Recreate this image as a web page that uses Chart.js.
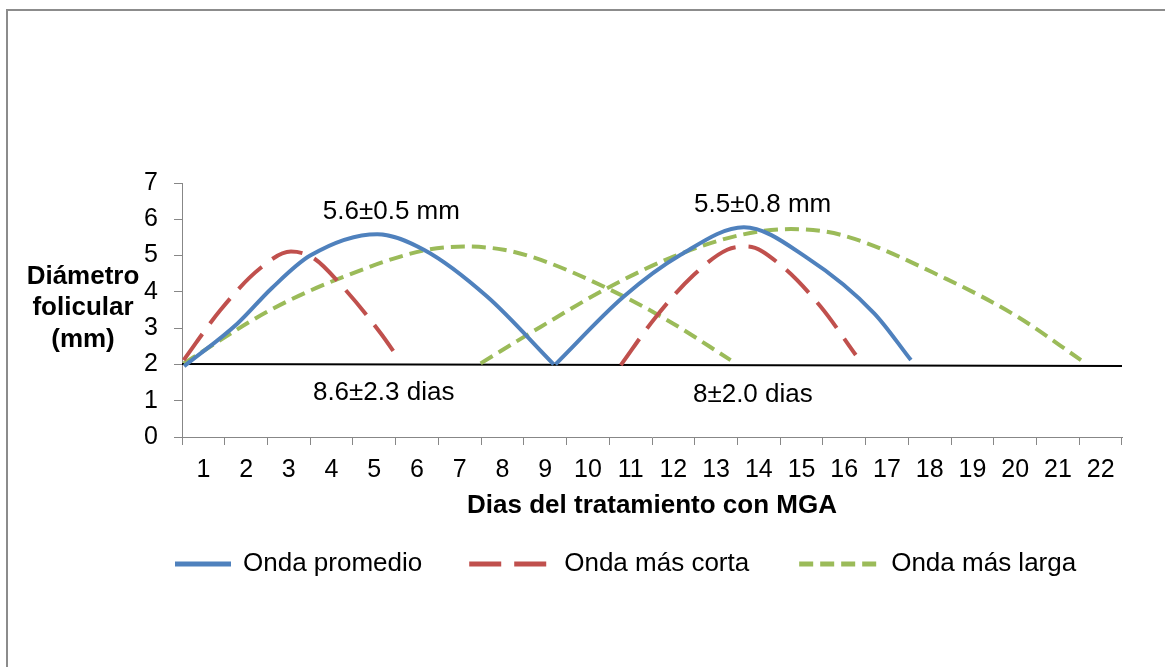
<!DOCTYPE html>
<html>
<head>
<meta charset="utf-8">
<script src="https://cdn.jsdelivr.net/npm/chart.js@4.4.1/dist/chart.umd.min.js"></script>
<style>
    html, body { margin: 0; padding: 0; background: #fff; overflow: hidden; }
    #frame { position: absolute; left: 6px; top: 9px; width: 1200px; height: 700px; border-top: 2px solid #8c8c8c; border-left: 2px solid #8c8c8c; }
    #wrap { position: absolute; left: 0; top: 0; width: 1165px; height: 667px; }
</style>
</head>
<body>
<div id="frame"></div>
<div id="wrap"><canvas id="myChart" width="1165" height="667"></canvas></div>
<script>
// Days on the x axis
const dayLabels = ['1', '2', '3', '4', '5', '6', '7', '8', '9', '10', '11',
    '12', '13', '14', '15', '16', '17', '18', '19', '20', '21', '22'];

// Onda promedio (two waves, null = break)
const promedioX = [0.55, 1.8, 2.6, 3.5, 5.07, 6.16, 7.64, 9.2, null, 9.24, 10.84, 12.17, 13.65, 15.14, 16.7, 17.56];
const promedioY = [1.95, 3.13, 4.1, 5.0, 5.59, 5.16, 3.87, 2.0, null, 2.0, 3.87, 5.02, 5.78, 4.93, 3.41, 2.12];

// Onda más corta
const cortaX = [0.54, 1.4, 2.33, 3.05, 3.58, 4.29, 5.15, 5.54, null, 10.77, 11.59, 12.48, 13.26, 13.73, 14.51, 15.45, 16.27];
const cortaY = [2.12, 3.5, 4.65, 5.11, 4.93, 4.1, 2.86, 2.21, null, 1.98, 3.31, 4.47, 5.16, 5.25, 4.74, 3.59, 2.26];

// Onda más larga
const largaX = [0.54, 2.57, 4.29, 6.16, 7.1, 8.03, 8.9, 10.45, 11.86, 13.34, null, 7.49, 8.9, 10.45, 12.0, 13.58, 14.75, 15.92, 18.4, 20.06, 21.54];
const largaY = [2.03, 3.5, 4.42, 5.14, 5.25, 5.16, 4.88, 4.1, 3.22, 2.12, null, 2.03, 3.04, 4.1, 4.97, 5.57, 5.73, 5.57, 4.35, 3.31, 2.12];

// baseline at ~2 mm
const baseX = [0.5, 22.5];
const baseY = [2.01, 1.96];

// text notes on the plot
const noteText = ['5.6±0.5 mm', '5.5±0.8 mm', '8.6±2.3 dias', '8±2.0 dias'];
const noteX = [5.40, 14.09, 5.22, 13.86];
const noteY = [6.21, 6.40, 1.23, 1.15];

const yTitle = ['Diámetro', 'folicular', '(mm)'];
const xTitle = 'Dias del tratamiento con MGA';

const FONT = '"Liberation Sans", Arial, sans-serif';
const axisGray = '#878787';
const LEGEND_BOX = 89;
const legendLineLen = [56, 83, 80];

function toPoints(xs, ys) {
    return xs.map((x, i) => ({ x: x, y: ys[i] }));
}

const notesPlugin = {
    id: 'notes',
    afterDraw(chart) {
        const { ctx, chartArea } = chart;
        const x = chart.scales.x;
        const y = chart.scales.y;
        ctx.save();
        ctx.fillStyle = '#000';
        ctx.textAlign = 'center';
        ctx.textBaseline = 'middle';
        ctx.font = '26px ' + FONT;
        noteText.forEach((t, i) => {
            ctx.fillText(t, x.getPixelForValue(noteX[i]), y.getPixelForValue(noteY[i]));
        });
        // y axis title, horizontal, left of the axis
        ctx.font = 'bold 26px ' + FONT;
        const cx = chartArea.left - 99;
        const cy = (chartArea.top + chartArea.bottom) / 2 - 2;
        yTitle.forEach((t, i) => {
            ctx.fillText(t, cx, cy + (i - 1) * 31.5);
        });

        // legend symbols (dashed lines, with own lengths)
        const boxes = chart.legend.legendHitBoxes || [];
        boxes.forEach((hb, i) => {
            const ds = chart.data.datasets[i];
            const end = hb.left + LEGEND_BOX + 13 - 12;
            const yy = hb.top + hb.height / 2;
            ctx.beginPath();
            ctx.setLineDash(ds.borderDash || []);
            ctx.lineWidth = 5;
            ctx.strokeStyle = ds.borderColor;
            ctx.lineCap = 'butt';
            ctx.moveTo(end - legendLineLen[i], yy);
            ctx.lineTo(end, yy);
            ctx.stroke();
        });
        ctx.restore();
    }
};

const ctx = document.getElementById('myChart').getContext('2d');
new Chart(ctx, {
    type: 'line',
    data: {
        labels: dayLabels,
        datasets: [{
            label: 'Onda promedio',
            data: toPoints(promedioX, promedioY),
            borderColor: '#4F81BD',
            backgroundColor: '#4F81BD',
            borderWidth: 4
        }, {
            label: 'Onda más corta',
            data: toPoints(cortaX, cortaY),
            borderColor: '#C0504D',
            backgroundColor: '#C0504D',
            borderWidth: 4,
            borderDash: [32, 13]
        }, {
            label: 'Onda más larga',
            data: toPoints(largaX, largaY),
            borderColor: '#9BBB59',
            backgroundColor: '#9BBB59',
            borderWidth: 4,
            borderDash: [14, 7]
        }, {
            label: 'base',
            data: toPoints(baseX, baseY),
            borderColor: '#000',
            borderWidth: 2,
            cubicInterpolationMode: 'default',
            tension: 0
        }]
    },
    options: {
        responsive: false,
        animation: false,
        devicePixelRatio: 1,
        layout: { padding: { left: 101, right: 43, top: 183, bottom: 80 } },
        elements: {
            point: { radius: 0, hoverRadius: 0 },
            line: { cubicInterpolationMode: 'monotone', fill: false }
        },
        scales: {
            x: { type: 'linear', display: false, min: 0.5, max: 22.5 },
            xc: {
                type: 'category',
                position: 'bottom',
                labels: dayLabels,
                offset: true,
                grid: { offset: true, drawOnChartArea: false, tickLength: 8, color: axisGray },
                border: { color: axisGray, width: 1 },
                ticks: { padding: 10, color: '#000', font: { family: FONT, size: 25 }, maxRotation: 0, autoSkip: false },
                title: {
                    display: true,
                    text: xTitle,
                    color: '#000',
                    font: { family: FONT, size: 26, weight: 'bold' },
                    padding: { top: 0, bottom: -10 }
                },
                afterFit: s => { s.height = 74; }
            },
            y: {
                min: 0,
                max: 7,
                ticks: { stepSize: 1, autoSkip: false, padding: 16, color: '#000', font: { family: FONT, size: 25 } },
                grid: { drawOnChartArea: false, tickLength: 8, color: axisGray },
                border: { color: axisGray, width: 1 },
                afterFit: s => { s.width = 81; }
            }
        },
        plugins: {
            legend: {
                position: 'bottom',
                align: 'start',
                labels: {
                    generateLabels: chart => Chart.defaults.plugins.legend.labels.generateLabels(chart)
                        .filter(item => item.datasetIndex < 3)
                        .map(item => Object.assign(item, { lineWidth: 0, strokeStyle: 'rgba(0,0,0,0)', fillStyle: 'rgba(0,0,0,0)' })),
                    usePointStyle: true,
                    pointStyle: 'line',
                    pointStyleWidth: LEGEND_BOX,
                    padding: 40,
                    color: '#000',
                    font: { family: FONT, size: 26 }
                }
            },
            tooltip: { enabled: false }
        }
    },
    plugins: [notesPlugin]
});
</script>
</body>
</html>
